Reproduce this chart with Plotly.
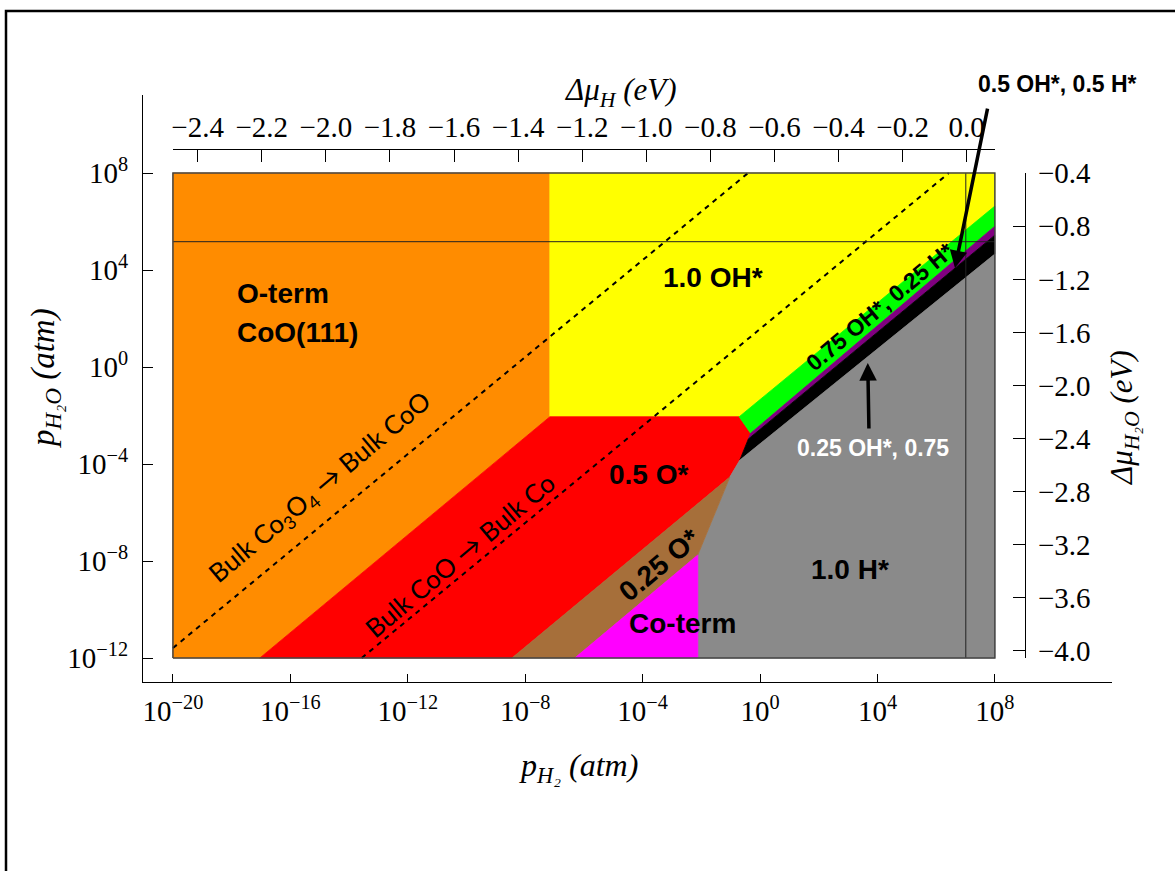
import plotly.graph_objects as go

# ---------------- data (X = log10 pH2 / atm, Y = log10 pH2O / atm) ----------------
orange_x = [-20, -7.16, -7.16, -17.04, -20]
orange_y = [8, 8, -2.05, -12, -12]
yellow_x = [-7.16, 8, 8, -0.71, -7.16]
yellow_y = [8, 8, 6.64, -2.05, -2.05]
red_x = [-17.04, -7.16, -0.71, -0.32, -0.69, -1.03, -8.45]
red_y = [-12, -2.05, -2.05, -2.73, -3.84, -4.54, -12]
green_x = [-0.71, 8, 8, -0.32]
green_y = [-2.05, 6.64, 5.81, -2.73]
purple_x = [-0.32, 8, 8, -0.40]
purple_y = [-2.73, 5.81, 5.44, -2.97]
black_x = [-0.40, 8, 8, -0.69]
black_y = [-2.97, 5.44, 4.66, -3.84]
grey_x = [-0.69, 8, 8, -2.12, -2.12, -1.03]
grey_y = [-3.84, 4.66, -12, -12, -7.75, -4.54]
brown_x = [-8.45, -1.03, -2.12, -6.31]
brown_y = [-12, -4.54, -7.75, -12]
magenta_x = [-6.31, -2.12, -2.12]
magenta_y = [-12, -7.75, -12]

# bulk phase transition lines
bulk1_x = [-20, -0.41]
bulk1_y = [-11.59, 8]
bulk2_x = [-13.57, 6.43]
bulk2_y = [-12, 8]

# reference lines
muH_zero_x = [7.01, 7.01]
muH_zero_y = [-12, 8]
hline_x = [-20, 8]
hline_y = [5.17, 5.17]

# axes
x_tickvals = [-20, -16, -12, -8, -4, 0, 4, 8]
x_ticktext = ["10<sup>−20</sup>", "10<sup>−16</sup>", "10<sup>−12</sup>", "10<sup>−8</sup>",
              "10<sup>−4</sup>", "10<sup>0</sup>", "10<sup>4</sup>", "10<sup>8</sup>"]
y_tickvals = [-12, -8, -4, 0, 4, 8]
y_ticktext = ["10<sup>−12</sup>", "10<sup>−8</sup>", "10<sup>−4</sup>", "10<sup>0</sup>",
              "10<sup>4</sup>", "10<sup>8</sup>"]
muH_tickvals = [-2.4, -2.2, -2.0, -1.8, -1.6, -1.4, -1.2, -1.0, -0.8, -0.6, -0.4, -0.2, 0.0]
muH_ticktext = ["−2.4", "−2.2", "−2.0", "−1.8", "−1.6", "−1.4", "−1.2", "−1.0", "−0.8",
                "−0.6", "−0.4", "−0.2", "0.0"]
muH2O_tickvals = [-0.4, -0.8, -1.2, -1.6, -2.0, -2.4, -2.8, -3.2, -3.6, -4.0]
muH2O_ticktext = ["−0.4", "−0.8", "−1.2", "−1.6", "−2.0", "−2.4", "−2.8", "−3.2", "−3.6", "−4.0"]

# ---------------- figure ----------------
W, H = 1175, 871
L, R, T, B = 143, 63, 95, 189
PW, PH = W - L - R, H - T - B

def px2paper_x(px):
    return (px - L) / PW

def px2paper_y(py):
    return (H - B - py) / PH

fig = go.Figure()

regions = [
    (orange_x, orange_y, "#FF8C00"),
    (yellow_x, yellow_y, "#FFFF00"),
    (red_x, red_y, "#FF0000"),
    (green_x, green_y, "#00FF00"),
    (purple_x, purple_y, "#800080"),
    (black_x, black_y, "#000000"),
    (grey_x, grey_y, "#8A8A8A"),
    (brown_x, brown_y, "#A66F3A"),
    (magenta_x, magenta_y, "#FF00FF"),
]
for xs, ys, c in regions:
    fig.add_trace(go.Scatter(x=xs + [xs[0]], y=ys + [ys[0]], mode="lines", fill="toself",
                             fillcolor=c, line=dict(color=c, width=0.8),
                             hoverinfo="skip", showlegend=False))

for xs, ys in [(bulk1_x, bulk1_y), (bulk2_x, bulk2_y)]:
    fig.add_trace(go.Scatter(x=xs, y=ys, mode="lines",
                             line=dict(color="black", width=2, dash="5px,5px"),
                             hoverinfo="skip", showlegend=False))

for xs, ys in [(muH_zero_x, muH_zero_y), (hline_x, hline_y)]:
    fig.add_trace(go.Scatter(x=xs, y=ys, mode="lines",
                             line=dict(color="#222222", width=1),
                             hoverinfo="skip", showlegend=False))

# plot border
fig.add_trace(go.Scatter(x=[-20, 8, 8, -20, -20], y=[-12, -12, 8, 8, -12], mode="lines",
                         line=dict(color="#444444", width=1.5),
                         hoverinfo="skip", showlegend=False))

# dummy traces for secondary axes
fig.add_trace(go.Scatter(x=[muH_tickvals[0], muH_tickvals[-1]], y=[0, 0], xaxis="x2", yaxis="y",
                         mode="markers", marker=dict(opacity=0), hoverinfo="skip", showlegend=False))
fig.add_trace(go.Scatter(x=[0, 0], y=[muH2O_tickvals[0], muH2O_tickvals[-1]], xaxis="x", yaxis="y2",
                         mode="markers", marker=dict(opacity=0), hoverinfo="skip", showlegend=False))

serif = "Liberation Serif, Times New Roman, serif"
sans = "Liberation Sans, Arial, sans-serif"
calib = "Lato, Open Sans, sans-serif"
tickfont = dict(family=serif, size=29, color="black")

fig.update_layout(
    width=W, height=H,
    margin=dict(l=L, r=R, t=T, b=B, pad=0),
    paper_bgcolor="white", plot_bgcolor="rgba(0,0,0,0)",
    showlegend=False,
    xaxis=dict(domain=[0, 1], range=[-21.02, 11.99], tickvals=x_tickvals, ticktext=x_ticktext,
               ticks="inside", ticklen=8, tickcolor="black", tickwidth=1.2, ticklabelstandoff=3,
               showline=True, linecolor="black", linewidth=1.2, showgrid=False, zeroline=False,
               tickfont=tickfont, anchor="y", fixedrange=True),
    yaxis=dict(domain=[0, 1], range=[-12.99, 11.22], tickvals=y_tickvals, ticktext=y_ticktext,
               ticks="inside", ticklen=10, tickcolor="black", tickwidth=1.2, ticklabelstandoff=8,
               showline=True, linecolor="black", linewidth=1.2, showgrid=False, zeroline=False,
               tickfont=tickfont, anchor="x", fixedrange=True),
    xaxis2=dict(domain=[px2paper_x(173), px2paper_x(995)], range=[-2.477, 0.0883],
                tickvals=muH_tickvals, ticktext=muH_ticktext, side="top", anchor="free",
                position=px2paper_y(149),
                ticks="inside", ticklen=12, tickcolor="black", tickwidth=1.2,
                showline=True, linecolor="black", linewidth=1.2, showgrid=False, zeroline=False,
                tickfont=tickfont, fixedrange=True),
    yaxis2=dict(domain=[px2paper_y(658), px2paper_y(173)], range=[-4.053, -0.398],
                tickvals=muH2O_tickvals, ticktext=muH2O_ticktext, side="right", anchor="free",
                position=px2paper_x(1025), ticklabelstandoff=6,
                ticks="inside", ticklen=12, tickcolor="black", tickwidth=1.2,
                showline=True, linecolor="black", linewidth=1.2, showgrid=False, zeroline=False,
                tickfont=tickfont, fixedrange=True),
)

# figure frame
fig.add_shape(type="rect", xref="paper", yref="paper",
              x0=px2paper_x(6), x1=px2paper_x(1185), y0=px2paper_y(885), y1=px2paper_y(11),
              line=dict(color="black", width=2.5), fillcolor="rgba(0,0,0,0)", layer="above")

ann = []
def lab(text, x, y, size=28, color="black", angle=0, family=sans, xanchor="center"):
    ann.append(dict(text=text, x=x, y=y, xref="x", yref="y", showarrow=False,
                    font=dict(family=family, size=size, color=color), textangle=angle,
                    xanchor=xanchor, yanchor="middle"))

def plab(text, px, py, font, angle=0):
    ann.append(dict(text=text, x=px2paper_x(px), y=px2paper_y(py), xref="paper", yref="paper",
                    showarrow=False, font=font, textangle=angle,
                    xanchor="center", yanchor="middle"))

lab("<b>O-term</b>", -17.89, 3.05, xanchor="left")
lab("<b>CoO(111)</b>", -17.89, 1.44, xanchor="left")
lab("<b>1.0 OH*</b>", -1.61, 3.71)
lab("<b>0.5 O*</b>", -3.79, -4.45)
lab("<b>0.25 O*</b>", -3.41, -8.16, angle=-40)
lab("<b>Co-term</b>", -2.63, -10.56)
lab("<b>1.0 H*</b>", 3.06, -8.33)
lab("<b>0.75 OH*, 0.25 H*</b>", 4.08, 2.47, size=23, angle=-40)
lab("<b>0.25 OH*, 0.75</b>", 3.84, -3.34, size=23, color="white")
lab("Bulk Co<sub>3</sub>O<sub>4</sub> → Bulk CoO", -14.99, -4.95, size=26, angle=-40, family=calib)
lab("Bulk CoO → Bulk Co", -10.22, -7.75, size=26, angle=-40, family=calib)
plab("<b>0.5 OH*, 0.5 H*</b>", 1057, 84, dict(family=sans, size=23, color="black"))

# arrows
ann.append(dict(text="", x=6.64, y=4.08, ax=7.76, ay=10.72, xref="x", yref="y", axref="x", ayref="y",
                showarrow=True, arrowhead=2, arrowsize=1, arrowwidth=3.5, arrowcolor="black"))
ann.append(dict(text="", x=3.67, y=0.165, ax=3.71, ay=-2.60, xref="x", yref="y", axref="x", ayref="y",
                showarrow=True, arrowhead=2, arrowsize=1, arrowwidth=3.5, arrowcolor="black"))

# axis titles
ttl = dict(family=serif, size=31, color="black")
plab("<i>Δμ<sub>H</sub> (eV)</i>", 620, 92, ttl)
plab("<i>p<sub>H₂O</sub> (atm)</i>", 45, 378, dict(family=serif, size=33, color="black"), angle=-90)
plab("<i>p<sub>H₂</sub> (atm)</i>", 578, 767, dict(family=serif, size=32, color="black"))
plab("<i>Δμ<sub>H₂O</sub> (eV)</i>", 1124, 418, ttl, angle=-90)

fig.update_layout(annotations=ann)
fig.write_html("out.html", post_script="document.body.style.margin='0px';",
               config={"displayModeBar": False})
